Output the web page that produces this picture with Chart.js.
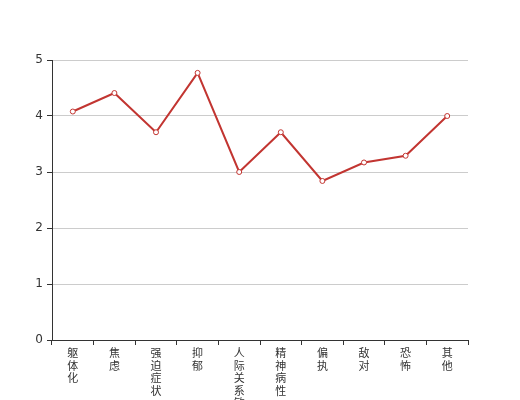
<!DOCTYPE html>
<html>
<head>
<meta charset="utf-8">
<script src="https://cdn.jsdelivr.net/npm/chart.js@4/dist/chart.umd.min.js"></script>
<style>
  body { margin: 0; background: #fff; }
</style>
</head>
<body>
<canvas id="chart" width="520" height="400"></canvas>
<script>
// categories and scores
const categories = ['躯体化', '焦虑', '强迫症状', '抑郁', '人际关系敏感', '精神病性', '偏执', '敌对', '恐怖', '其他'];
const scores = [4.08, 4.41, 3.71, 4.77, 3.0, 3.71, 2.84, 3.17, 3.29, 4.0];
const yTicks = [0, 1, 2, 3, 4, 5];

// one character per line, like the vertical labels
const labels = categories.map((c) => c.split(''));

const fontFamily = '"DejaVu Sans", "Noto Sans CJK SC", sans-serif';

const ctx = document.getElementById('chart');
new Chart(ctx, {
  type: 'line',
  data: {
    labels: labels,
    datasets: [
      {
        data: scores,
        borderColor: '#c23531',
        borderWidth: 2,
        backgroundColor: '#fff',
        pointRadius: 2.5,
        pointBorderWidth: 1,
        pointBorderColor: '#c23531',
        pointBackgroundColor: '#fff',
        tension: 0,
        fill: false,
      },
    ],
  },
  options: {
    responsive: false,
    animation: false,
    layout: { padding: { top: 60, right: 52, left: 0, bottom: 0 } },
    plugins: {
      legend: { display: false },
      tooltip: { enabled: false },
    },
    scales: {
      x: {
        offset: true,
        afterFit: (scale) => { scale.height = 60; },
        grid: {
          offset: true,
          drawOnChartArea: false,
          tickLength: 5,
          tickColor: '#333',
        },
        border: { color: '#333', width: 1 },
        ticks: {
          autoSkip: false,
          maxRotation: 0,
          minRotation: 0,
          padding: 3,
          color: '#333',
          font: { family: fontFamily, size: 11, lineHeight: '12.5px' },
        },
      },
      y: {
        min: yTicks[0],
        max: yTicks[yTicks.length - 1],
        afterFit: (scale) => { scale.width = 52; },
        afterBuildTicks: (scale) => {
          scale.ticks = yTicks.map((v) => ({ value: v }));
        },
        grid: {
          color: '#ccc',
          tickColor: '#333',
          tickLength: 5,
        },
        border: { color: '#333', width: 1 },
        ticks: {
          padding: 4,
          color: '#333',
          font: { family: fontFamily, size: 12 },
        },
      },
    },
  },
});
</script>
</body>
</html>
